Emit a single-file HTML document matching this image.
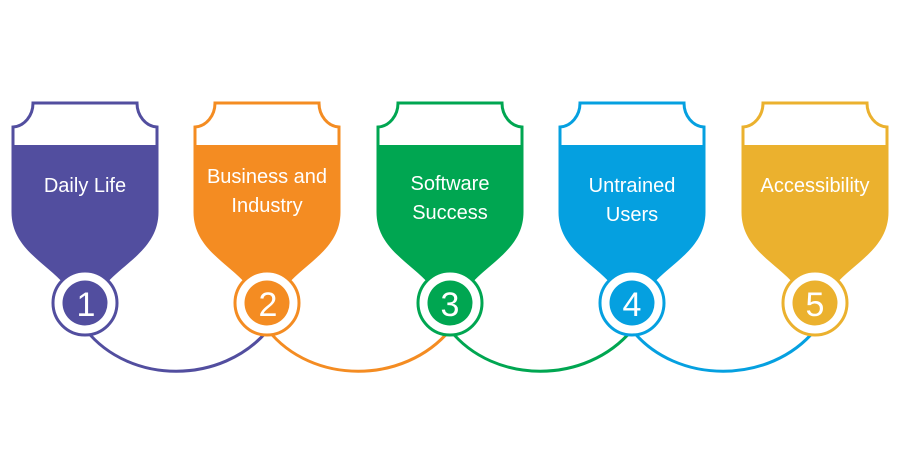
<!DOCTYPE html>
<html><head><meta charset="utf-8"><style>
html,body{margin:0;padding:0;background:#fff;}
svg{display:block;}
text{font-family:"Liberation Sans",sans-serif;fill:#fff;}
</style></head><body>
<svg width="900" height="450" viewBox="0 0 900 450" xmlns="http://www.w3.org/2000/svg">
<g fill="none" stroke-width="3">
<path d="M86,330 C130,385 222,385 268,330" stroke="#524E9F"/>
<path d="M268,330 C312,385 404,385 450,330" stroke="#F48C22"/>
<path d="M450,330 C494,385 586,385 632,330" stroke="#00A651"/>
<path d="M632,330 C676,385 770,385 815,330" stroke="#05A0E0"/>
</g>
<defs>
<g id="shape">
<path d="M-72,145 L-72,127 A21 24 0 0 0 -52,103 L52,103 A21 24 0 0 0 72,127 L72,145" fill="none" stroke-width="3" stroke="currentColor"/>
<path d="M-73.5,145 L73.5,145 L73.5,212 C73.5,248 40,262 20,285 L-20,285 C-40,262 -73.5,248 -73.5,212 Z" fill="currentColor"/>
<circle cx="0" cy="303" r="32" fill="#fff" stroke="currentColor" stroke-width="3"/>
<circle cx="0" cy="303" r="22.5" fill="currentColor"/>
</g>
</defs>
<use href="#shape" x="85" y="0" style="color:#524E9F"/>
<use href="#shape" x="267" y="0" style="color:#F48C22"/>
<use href="#shape" x="450" y="0" style="color:#00A651"/>
<use href="#shape" x="632" y="0" style="color:#05A0E0"/>
<use href="#shape" x="815" y="0" style="color:#EBB12E"/>
<g font-size="20" text-anchor="middle">
<text x="85" y="192">Daily Life</text>
<text x="267" y="183">Business and</text>
<text x="267" y="212">Industry</text>
<text x="450" y="190">Software</text>
<text x="450" y="219">Success</text>
<text x="632" y="192">Untrained</text>
<text x="632" y="221">Users</text>
<text x="815" y="192">Accessibility</text>
</g>
<g font-size="34" text-anchor="middle">
<text x="86" y="316">1</text>
<text x="268" y="316">2</text>
<text x="450" y="316">3</text>
<text x="632" y="316">4</text>
<text x="815" y="316">5</text>
</g>
</svg>
</body></html>
